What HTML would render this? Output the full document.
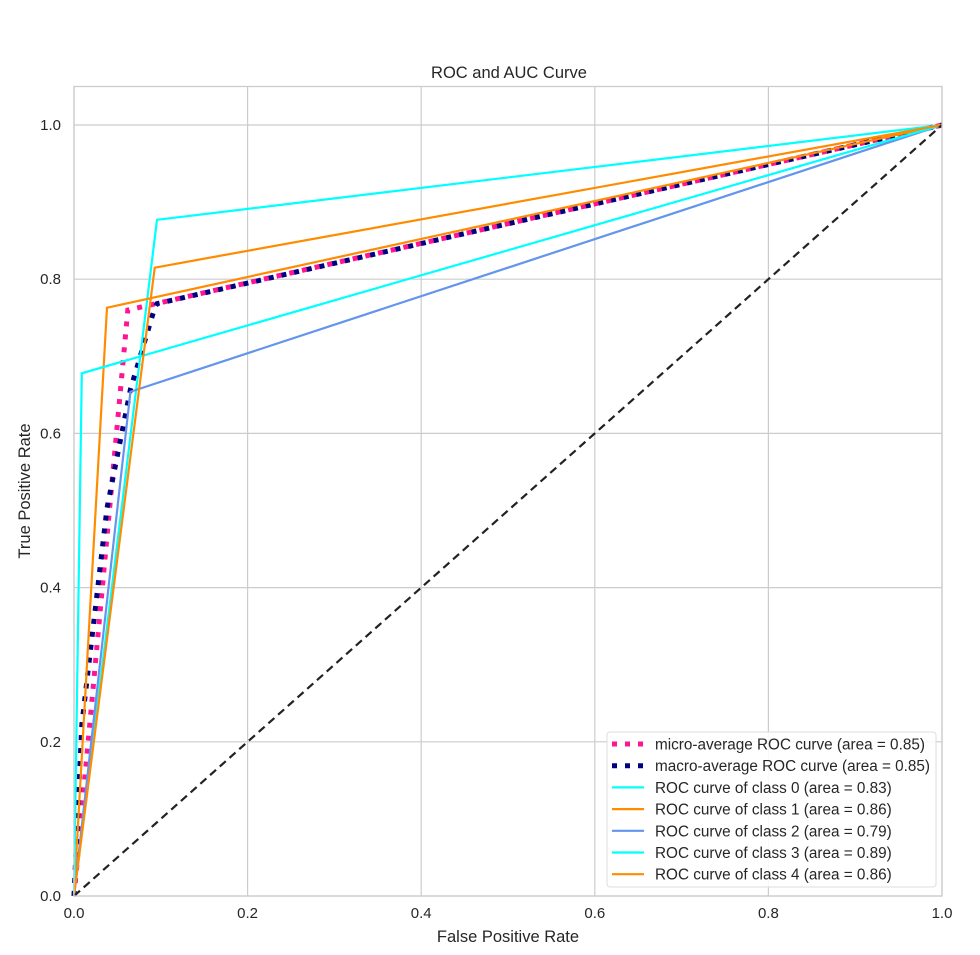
<!DOCTYPE html>
<html><head><meta charset="utf-8"><style>
body{margin:0;background:#fff;font-family:"Liberation Sans",sans-serif}
svg text{font-family:"Liberation Sans",sans-serif;fill:#262626}
</style></head><body>
<svg id="chart" width="980" height="950">
<rect width="980" height="950" fill="#fff"/>
<g id="grid"></g>
<g id="series"></g>
<rect x="74" y="86.5" width="868" height="809.5" fill="none" stroke="#ccc" stroke-width="1.3"/>
<g id="ticks"></g>
<text x="509" y="78" text-anchor="middle" font-size="16.5">ROC and AUC Curve</text>
<text x="508" y="942" text-anchor="middle" font-size="16.5">False Positive Rate</text>
<text transform="translate(30,491) rotate(-90)" text-anchor="middle" font-size="16.5">True Positive Rate</text>
<g id="legend"></g>
</svg>
<script>
const xTicks=[0,0.2,0.4,0.6,0.8,1.0];
const yTicks=[0,0.2,0.4,0.6,0.8,1.0];
const microFpr=[0,0.062,1];
const microTpr=[0,0.76,1];
const class0Fpr=[0,0.0956,1];const class0Tpr=[0,0.877,1];
const class1Fpr=[0,0.038,1];const class1Tpr=[0,0.763,1];
const class2Fpr=[0,0.065,1];const class2Tpr=[0,0.654,1];
const class3Fpr=[0,0.009,1];const class3Tpr=[0,0.678,1];
const class4Fpr=[0,0.093,1];const class4Tpr=[0,0.815,1];
const labels=["micro-average ROC curve (area = 0.85)","macro-average ROC curve (area = 0.85)","ROC curve of class 0 (area = 0.83)","ROC curve of class 1 (area = 0.86)","ROC curve of class 2 (area = 0.79)","ROC curve of class 3 (area = 0.89)","ROC curve of class 4 (area = 0.86)"];
const NS="http://www.w3.org/2000/svg";
const X=v=>74+v*868, Y=v=>896-v*771;
function mk(t,a,p){const e=document.createElementNS(NS,t);for(const k in a)e.setAttribute(k,a[k]);p.appendChild(e);return e;}
const grid=document.getElementById('grid'),ticks=document.getElementById('ticks'),ser=document.getElementById('series'),leg=document.getElementById('legend');
xTicks.forEach(v=>{const l=mk('line',{x1:X(v),x2:X(v),y1:86.5,y2:896,stroke:'#ccc','stroke-width':1.2},grid);

const t=mk('text',{x:X(v),y:918,'text-anchor':'middle','font-size':15},ticks);t.textContent=v.toFixed(1);
});
yTicks.forEach(v=>{const l=mk('line',{x1:74,x2:942,y1:Y(v),y2:Y(v),stroke:'#ccc','stroke-width':1.2},grid);

const t=mk('text',{x:61,y:Y(v)+5,'text-anchor':'end','font-size':15},ticks);t.textContent=v.toFixed(1);
});
function interp(x,xs,ys){for(let i=1;i<xs.length;i++){if(x<=xs[i]){return ys[i-1]+(ys[i]-ys[i-1])*(x-xs[i-1])/(xs[i]-xs[i-1]);}}return ys[ys.length-1];}
const classes=[[class0Fpr,class0Tpr],[class1Fpr,class1Tpr],[class2Fpr,class2Tpr],[class3Fpr,class3Tpr],[class4Fpr,class4Tpr]];
const allF=[...new Set(classes.flatMap(c=>c[0]))].sort((a,b)=>a-b);
const macroTpr=allF.map(f=>classes.reduce((s,c)=>s+interp(f,c[0],c[1]),0)/classes.length);
function line(xs,ys,color,w,dash,name){const p=mk('polyline',{points:xs.map((x,i)=>X(x)+','+Y(ys[i])).join(' '),fill:'none',stroke:color,'stroke-width':w},ser);
if(dash)p.setAttribute('stroke-dasharray',dash);
}
line(microFpr,microTpr,'deeppink',5,'5 8','micro-average-curve');
line(allF,macroTpr,'navy',5,'5 8','macro-average-curve');
const cols=['aqua','darkorange','cornflowerblue','aqua','darkorange'];
classes.forEach((c,i)=>line(c[0],c[1],cols[i],2.2,null,'class-'+i+'-curve'));
const d=mk('line',{x1:X(0),y1:Y(0),x2:X(1),y2:Y(1),stroke:'#222','stroke-width':2.2,'stroke-dasharray':'8 5'},ser);

mk('rect',{x:607,y:732,width:329,height:155,rx:3,fill:'#fff','fill-opacity':0.85,stroke:'#ddd'},leg);
const lc=['deeppink','navy'].concat(cols);
labels.forEach((s,i)=>{const y=744+i*21.7;
const l=mk('line',{x1:612,x2:644,y1:y,y2:y,stroke:lc[i],'stroke-width':i<2?5:2.2},leg);
if(i<2)l.setAttribute('stroke-dasharray','5 8');

const t=mk('text',{x:655,y:y+5.5,'font-size':15.3},leg);t.textContent=s;
});
</script>
</body></html>
